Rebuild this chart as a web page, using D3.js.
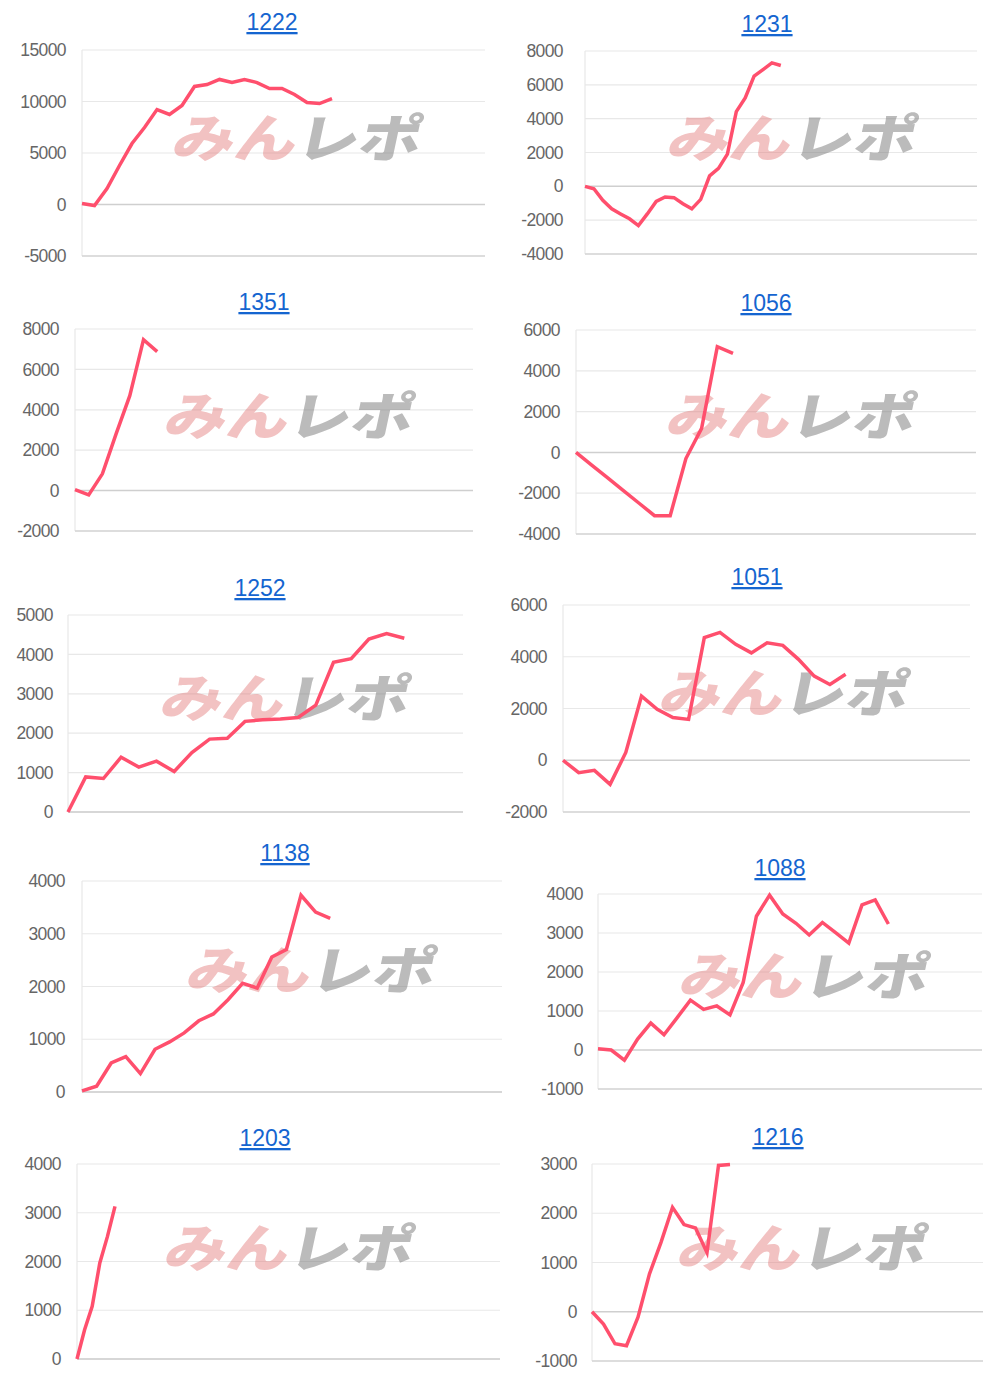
<!DOCTYPE html>
<html><head><meta charset="utf-8">
<script src="https://cdn.jsdelivr.net/npm/d3@7"></script>
<style>body{margin:0;background:#fff}svg{display:block}</style>
</head><body>
<svg id="c" width="1000" height="1386"></svg>
<script>
// ---- data ----
const titles = ["1222","1231","1351","1056","1252","1051","1138","1088","1203","1216"];
const ticks1222 = [-5000,0,5000,10000,15000];
const ticks1231 = [-4000,-2000,0,2000,4000,6000,8000];
const ticks1351 = [-2000,0,2000,4000,6000,8000];
const ticks1056 = [-4000,-2000,0,2000,4000,6000];
const ticks1252 = [0,1000,2000,3000,4000,5000];
const ticks1051 = [-2000,0,2000,4000,6000];
const ticks1138 = [0,1000,2000,3000,4000];
const ticks1088 = [-1000,0,1000,2000,3000,4000];
const ticks1203 = [0,1000,2000,3000,4000];
const ticks1216 = [-1000,0,1000,2000,3000];
const s1222 = [100,-100,1550,3790,5920,7480,9220,8740,9610,11460,11650,12140,11840,12140,11840,11260,11260,10680,9900,9800,10290];
const s1231 = [0,-140,-830,-1330,-1630,-1920,-2320,-1630,-890,-630,-670,-1030,-1330,-770,620,1060,1900,4420,5220,6510,6900,7300,7140];
const s1351 = [50,-210,830,2810,4700,7470,6880];
const s1056 = [0,-620,-1240,-1860,-2480,-3100,-3100,-300,1180,5180,4850];
const s1252 = [0,890,850,1390,1140,1290,1030,1510,1850,1870,2300,2340,2360,2400,2710,3800,3890,4390,4530,4410];
const s1051 = [0,-480,-390,-930,300,2480,1970,1650,1580,4740,4940,4480,4150,4540,4440,3900,3250,2930,3320];
const s1138 = [20,110,550,670,350,810,950,1120,1350,1480,1750,2060,1970,2560,2700,3730,3410,3290];
const s1088 = [30,0,-260,280,690,390,830,1280,1040,1130,900,1730,3430,3970,3490,3250,2950,3270,3010,2740,3720,3850,3230];
const s1203 = [0,600,1080,1970,2510,3130];
const s1216 = [0,-250,-650,-690,-110,770,1410,2120,1770,1700,1200,2970,2990];
const series = [s1222,s1231,s1351,s1056,s1252,s1051,s1138,s1088,s1203,s1216];
const tickSets = [ticks1222,ticks1231,ticks1351,ticks1056,ticks1252,ticks1051,ticks1138,ticks1088,ticks1203,ticks1216];

// ---- layout ----
const layout = [
 {tx:272,ty:22, l:82, r:485,top:50, bot:256, step:12.5, wx:298,wy:140,lp:16},
 {tx:767,ty:24, l:585,r:977,top:51, bot:254, step:8.9,  wx:793,wy:140,lp:22},
 {tx:264,ty:302,l:75, r:473,top:329,bot:531, step:13.7, wx:290,wy:418,lp:16},
 {tx:766,ty:303,l:576,r:976,top:330,bot:534, step:15.7, wx:792,wy:418,lp:16},
 {tx:260,ty:588,l:68, r:463,top:615,bot:812, step:17.7, wx:286,wy:700,lp:15},
 {tx:757,ty:577,l:563,r:970,top:605,bot:812, step:15.7, wx:785,wy:695,lp:16},
 {tx:285,ty:853,l:82, r:502,top:881,bot:1092,step:14.6, wx:312,wy:972,lp:17},
 {tx:780,ty:868,l:598,r:982,top:894,bot:1089,step:13.2, wx:805,wy:978,lp:15},
 {tx:265,ty:1138,l:77,r:500,top:1164,bot:1359,step:7.6, wx:290,wy:1250,lp:16},
 {tx:778,ty:1137,l:592,r:983,top:1164,bot:1361,step:11.5,wx:803,wy:1250,lp:15}
];

const svg = d3.select("#c");
const font = "'Liberation Sans', Arial, sans-serif";
const fmt = d => String(d);

titles.forEach((t,i)=>{
  const L = layout[i], data = series[i], tk = tickSets[i];
  const g = svg.append("g");
  const y = d3.scaleLinear().domain([d3.min(tk), d3.max(tk)]).range([L.bot, L.top]);
  const nSlots = (L.r - L.l)/L.step;
  const x = d3.scaleLinear().domain([0, nSlots]).range([L.l, L.r]);

  g.append("g").selectAll("line").data(tk).join("line")
    .attr("x1",L.l).attr("x2",L.r).attr("y1",d=>y(d)).attr("y2",d=>y(d))
    .attr("stroke",d=> (d===0 ? "#cfcfcf" : "#e8e8e8"))
    .attr("stroke-width",d=> d===0?1.5:1.2);
  g.append("line").attr("x1",L.l).attr("x2",L.l).attr("y1",L.top).attr("y2",L.bot)
    .attr("stroke","#e8e8e8").attr("stroke-width",1.2);
  g.append("line").attr("x1",L.l).attr("x2",L.r).attr("y1",L.bot).attr("y2",L.bot)
    .attr("stroke","#d6d6d6").attr("stroke-width",1.5);

  const ax = g.append("g").attr("transform",`translate(${L.l-L.lp},0)`)
    .call(d3.axisLeft(y).tickValues(tk).tickSize(0).tickPadding(0).tickFormat(fmt));
  ax.select(".domain").remove();
  ax.selectAll("text").attr("fill","#666").style("font-family",font).style("font-size","17.5px")
    .attr("transform","scale(0.92,1)").attr("x",0);
  ax.selectAll(".tick text").each(function(){ d3.select(this).attr("transform",null).attr("textLength",null); });
  ax.selectAll("text").style("letter-spacing","-0.6px");

  const wm = g.append("text").attr("x",L.wx).attr("y",L.wy+18).attr("text-anchor","middle")
    .style("font-family","'Noto Sans CJK JP'").style("font-weight",900).style("font-size","54px")
    .attr("transform",`translate(${L.wx},${L.wy}) skewX(-12) scale(1.15,0.95) translate(${-L.wx},${-L.wy})`);
  wm.append("tspan").text("みん").attr("fill","rgba(225,110,110,0.42)");
  wm.append("tspan").text("レポ").attr("fill","rgba(120,120,120,0.5)");

  g.append("path").datum(data)
    .attr("d", d3.line().x((d,k)=>x(k)).y(d=>y(d)))
    .attr("fill","none").attr("stroke","#ff4f6d").attr("stroke-width",3.5);

  g.append("text").attr("x",L.tx).attr("y",L.ty+8).attr("text-anchor","middle")
    .attr("fill","#1565d0").style("font-family",font).style("font-size","23px")
    .style("text-decoration","underline").text(t);
});
</script>
</body></html>
